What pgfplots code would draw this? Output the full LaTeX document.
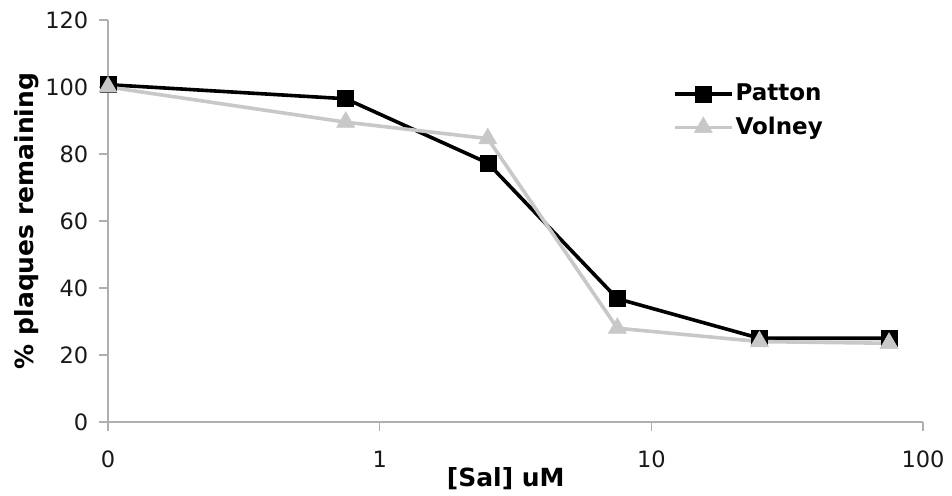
\documentclass[border=0pt]{standalone}
\usepackage{fontspec}
\setmainfont{DejaVu Sans}
\usepackage{pgfplots}
\pgfplotsset{compat=1.18}
\definecolor{axgray}{RGB}{175,175,175}
\definecolor{volney}{RGB}{200,200,200}
\begin{document}
\fontsize{22.5bp}{26bp}\selectfont
\begin{tikzpicture}
\begin{axis}[
  xmode=log, log basis x=10,
  scale only axis, width=815bp, height=402bp,
  xmin=0.1, xmax=100, ymin=0, ymax=120,
  axis lines=left,
  axis line style={axgray, line width=1.2bp, -},
  xtick={0.1,1,10,100}, xticklabels={0,1,10,100},
  xminorticks=false,
  ytick={0,20,40,60,80,100,120},
  tick style={axgray, line width=1.2bp},
  tick align=outside, major tick length=9bp,
  /pgf/number format/assume math mode=true,
  ticklabel style={font=\fontsize{22.5bp}{26bp}\selectfont, text=black!90},
  xticklabel style={anchor=center, yshift=-28bp},
  yticklabel style={anchor=east, xshift=-3bp},
  xlabel={\bfseries [Sal] uM},
  ylabel={\bfseries \% plaques remaining},
  xlabel style={at={(axis description cs:0.488,-0.1418)}, anchor=center, font=\fontsize{25bp}{29bp}\selectfont},
  ylabel style={at={(axis description cs:-0.0994,0.5)}, anchor=center, font=\fontsize{25bp}{29bp}\selectfont},
  clip=false,
  legend style={at={(axis description cs:0.693,0.774)}, anchor=west, draw=none, fill=none, inner sep=0pt, row sep=9bp,
    font=\bfseries\fontsize{23bp}{27bp}\selectfont},
  legend cell align=left,
  legend image code/.code={\draw[mark repeat=2,mark phase=2,#1] plot coordinates {(0bp,0bp) (28.5bp,0bp) (57bp,0bp)};},
]
\addplot[black, line width=3.6bp, mark=square*, mark size=8bp, mark options={solid, line width=0.5bp}]
  coordinates {(0.1,100.7) (0.75,96.5) (2.5,77.3) (7.5,36.8) (25,25.0) (75,25.0)};
\addlegendentry{Patton}
\addplot[volney, line width=3.6bp, mark=triangle*, mark size=10.5bp, mark options={solid, line width=0.5bp}]
  coordinates {(0.1,100.0) (0.75,89.5) (2.5,84.6) (7.5,28.0) (25,24.0) (75,23.5)};
\addlegendentry{Volney}
\coordinate (sw) at (rel axis cs:0,0);
\end{axis}
\pgfresetboundingbox
\path (sw) ++(-108bp,-74bp) rectangle ++(952bp,496bp);
\end{tikzpicture}
\end{document}
